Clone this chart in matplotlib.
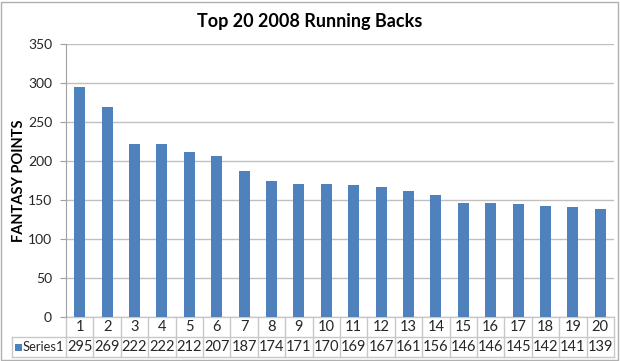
import matplotlib
matplotlib.use("Agg")
import matplotlib.pyplot as plt
import matplotlib.transforms as mtransforms
from matplotlib.patches import Rectangle

plt.rcParams['font.family'] = ['Lato', 'DejaVu Sans']

ranks = [str(i) for i in range(1, 21)]
points = [295, 269, 222, 222, 212, 207, 187, 174, 171, 170,
          169, 167, 161, 156, 146, 146, 145, 142, 141, 139]
series_name = "Series1"
title = "Top 20 2008 Running Backs"
ylabel = "FANTASY POINTS"
yticks = [0, 50, 100, 150, 200, 250, 300, 350]

W, H = 620, 361
fig = plt.figure(figsize=(W / 100, H / 100), dpi=100)

# chart border
fig.patches.append(Rectangle((1 / W, 1 / H), 1 - 3 / W, 1 - 3 / H, transform=fig.transFigure,
                             fill=False, edgecolor='#b0b0b0', linewidth=1))

left, right, top, bottom = 66, 614, 44, 317
ax = fig.add_axes([left / W, 1 - bottom / H, (right - left) / W, (bottom - top) / H])

x = list(range(len(points)))
ax.bar(x, points, width=0.4, color='#4f81bd', zorder=3)
ax.set_xlim(-0.5, len(points) - 0.5)
ax.set_ylim(0, 350)
ax.set_yticks(yticks)
ax.tick_params(axis='y', labelsize=10, length=4, colors='#a0a0a0', labelcolor='#262626', pad=6)
ax.set_xticks([])
ax.grid(axis='y', color='#c0c0c0', linewidth=1, zorder=0)
for s in ['top', 'right', 'bottom']:
    ax.spines[s].set_visible(False)
ax.spines['left'].set_color('#a0a0a0')

fig.text(0.5, 1 - 22 / H, title, ha='center', va='center', fontsize=13, fontweight='bold')
fig.text(19 / W, 1 - (top + bottom) / 2 / H, ylabel, rotation=90, ha='center', va='center',
         fontsize=10.5, fontweight='bold')

# data table under the plot
row_h = 20 / (bottom - top)
trans = mtransforms.blended_transform_factory(ax.transData, ax.transAxes)
line_kw = dict(color='#c8c8c8', linewidth=1, clip_on=False)
left_x = -0.5 - (left - 12) / (right - left) * len(points)
for k in [0, 1, 2]:
    x0 = -0.5 if k == 0 else left_x
    ax.plot([x0, len(points) - 0.5], [-k * row_h, -k * row_h], transform=trans, **line_kw)
for i in range(len(points) + 1):
    ax.plot([i - 0.5, i - 0.5], [0, -2 * row_h], transform=trans, **line_kw)
ax.plot([left_x, left_x], [-row_h, -2 * row_h], transform=trans, **line_kw)

for i, (r, v) in enumerate(zip(ranks, points)):
    ax.text(i, -0.5 * row_h, r, transform=trans, ha='center', va='center', fontsize=10.5, color='#262626')
    ax.text(i, -1.5 * row_h, str(v), transform=trans, ha='center', va='center', fontsize=10.5, color='#262626')

fig.patches.append(Rectangle((15 / W, 1 - 351 / H), 7 / W, 7 / H, transform=fig.transFigure,
                             facecolor='#4f81bd', edgecolor='none'))
fig.text(23 / W, 1 - 347 / H, series_name, ha='left', va='center', fontsize=9.3, color='#262626')

fig.savefig('out.png', dpi=100)
